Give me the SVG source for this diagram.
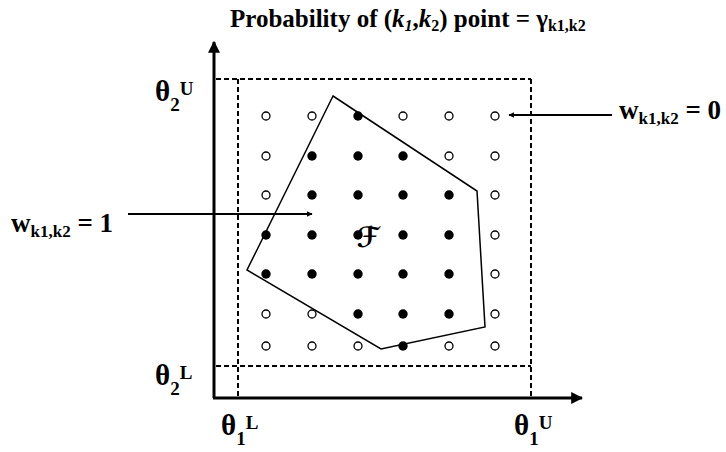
<svg xmlns="http://www.w3.org/2000/svg" width="726" height="452" viewBox="0 0 726 452">
<style>
text{font-family:"Liberation Serif","Times New Roman",serif;font-weight:bold;fill:#000}
.axis{stroke:#000;stroke-width:3;fill:none}
.dash{stroke:#000;stroke-width:2;stroke-dasharray:5,3;fill:none}
.arr{stroke:#000;stroke-width:2;fill:none}
.on{fill:#000}
.off{fill:#fff;stroke:#000;stroke-width:1.3}
.th{font-size:29px}
.sup{font-size:19px}
.w{font-size:27px}
.ws{font-size:17px}
</style>
<defs>
<marker id="ah" viewBox="0 0 10 10" refX="9" refY="5" markerWidth="6" markerHeight="6" orient="auto" markerUnits="userSpaceOnUse">
<path d="M0,0 L10,5 L0,10 z" fill="#000"/>
</marker>
<marker id="axh" viewBox="0 0 10 10" refX="9" refY="5" markerWidth="12" markerHeight="12" orient="auto" markerUnits="userSpaceOnUse">
<path d="M0,0 L10,5 L0,10 z" fill="#000"/>
</marker>
</defs>
<g id="axes">
<line class="axis" x1="214" y1="398" x2="214" y2="42" marker-end="url(#axh)"/>
<line class="axis" x1="213" y1="398" x2="582" y2="398" marker-end="url(#axh)"/>
</g>
<g id="bounds">
<line class="dash" x1="216" y1="79" x2="531" y2="79"/>
<line class="dash" x1="216" y1="366" x2="531" y2="366"/>
<line class="dash" x1="238" y1="79" x2="238" y2="397"/>
<line class="dash" x1="531" y1="79" x2="531" y2="397"/>
</g>
<g id="region">
<polygon points="333,96 477,191 485,327 381,349 247,270" fill="none" stroke="#000" stroke-width="1.5"/>
</g>
<g id="points">
<circle class="off" cx="266" cy="116" r="4"/><circle class="off" cx="312" cy="116" r="4"/><circle class="on" cx="358" cy="116" r="4.7"/><circle class="off" cx="403" cy="116" r="4"/><circle class="off" cx="449" cy="116" r="4"/><circle class="off" cx="495" cy="116" r="4"/>
<circle class="off" cx="266" cy="156" r="4"/><circle class="on" cx="312" cy="156" r="4.7"/><circle class="on" cx="358" cy="156" r="4.7"/><circle class="on" cx="403" cy="156" r="4.7"/><circle class="off" cx="449" cy="156" r="4"/><circle class="off" cx="495" cy="156" r="4"/>
<circle class="off" cx="266" cy="195" r="4"/><circle class="on" cx="312" cy="195" r="4.7"/><circle class="on" cx="358" cy="195" r="4.7"/><circle class="on" cx="403" cy="195" r="4.7"/><circle class="on" cx="449" cy="195" r="4.7"/><circle class="off" cx="495" cy="195" r="4"/>
<circle class="on" cx="266" cy="235" r="4.7"/><circle class="on" cx="312" cy="235" r="4.7"/><circle class="on" cx="358" cy="235" r="4.7"/><circle class="on" cx="403" cy="235" r="4.7"/><circle class="on" cx="449" cy="235" r="4.7"/><circle class="off" cx="495" cy="235" r="4"/>
<circle class="on" cx="266" cy="274" r="4.7"/><circle class="on" cx="312" cy="274" r="4.7"/><circle class="on" cx="358" cy="274" r="4.7"/><circle class="on" cx="403" cy="274" r="4.7"/><circle class="on" cx="449" cy="274" r="4.7"/><circle class="off" cx="495" cy="274" r="4"/>
<circle class="off" cx="266" cy="314" r="4"/><circle class="off" cx="312" cy="314" r="4"/><circle class="on" cx="358" cy="314" r="4.7"/><circle class="on" cx="403" cy="314" r="4.7"/><circle class="on" cx="449" cy="314" r="4.7"/><circle class="off" cx="495" cy="314" r="4"/>
<circle class="off" cx="266" cy="346" r="4"/><circle class="off" cx="312" cy="346" r="4"/><circle class="off" cx="358" cy="346" r="4"/><circle class="on" cx="403" cy="346" r="4.7"/><circle class="off" cx="449" cy="346" r="4"/><circle class="off" cx="495" cy="346" r="4"/>
</g>
<g id="F-label">
<text x="368" y="247" text-anchor="middle" style="font-family:'DejaVu Serif','DejaVu Sans',serif;font-style:italic;font-weight:bold;font-size:28px">ℱ</text>
</g>
<g id="connectors">
<line class="arr" x1="128" y1="214" x2="312" y2="214" marker-end="url(#ah)"/>
<line class="arr" x1="612" y1="115" x2="509" y2="115" marker-end="url(#ah)"/>
</g>
<g id="title">
<text x="230" y="27" style="font-size:25px">Probability of (<tspan font-style="italic">k</tspan><tspan font-style="italic" font-size="16px" dy="4">1</tspan><tspan dy="-4">,</tspan><tspan font-style="italic">k</tspan><tspan font-size="16px" dy="4">2</tspan><tspan dy="-4">) point = γ</tspan><tspan font-size="16px" dy="4">k1,k2</tspan></text>
</g>
<g id="w0-label">
<text x="619" y="119" class="w">w<tspan class="ws" dy="5">k1,k2</tspan><tspan dy="-5"> = 0</tspan></text>
</g>
<g id="w1-label">
<text x="11" y="232" class="w">w<tspan class="ws" dy="5">k1,k2</tspan><tspan dy="-5"> = 1</tspan></text>
</g>
<g id="theta2U">
<text x="155" y="101" class="th">θ<tspan class="sup" dy="10">2</tspan><tspan class="sup" dy="-16">U</tspan></text>
</g>
<g id="theta2L">
<text x="155" y="385" class="th">θ<tspan class="sup" dy="10">2</tspan><tspan class="sup" dy="-16">L</tspan></text>
</g>
<g id="theta1L">
<text x="221" y="435" class="th">θ<tspan class="sup" dy="10">1</tspan><tspan class="sup" dy="-16">L</tspan></text>
</g>
<g id="theta1U">
<text x="514" y="435" class="th">θ<tspan class="sup" dy="10">1</tspan><tspan class="sup" dy="-16">U</tspan></text>
</g>
</svg>
